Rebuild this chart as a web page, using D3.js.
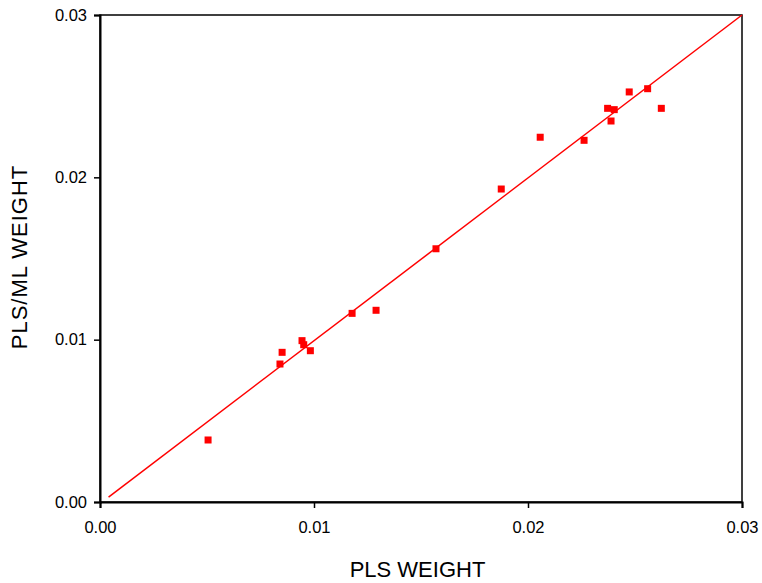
<!DOCTYPE html>
<html lang="en">
<head>
  <meta charset="utf-8">
  <title>PLS weight vs PLS/ML weight</title>
  <style>
    body { margin: 0; background: #fff; }
    svg text { font-family: "Liberation Sans", Arial, sans-serif; fill: #000; }
  </style>
</head>
<body>
<svg id="chart" width="762" height="583"></svg>
<script src="https://cdn.jsdelivr.net/npm/d3@7"></script>
<script>

// data
let plsWeight = [0.00505, 0.00841, 0.00851, 0.00944, 0.00952, 0.00983, 0.01178, 0.01290,
                 0.01570, 0.01875, 0.02057, 0.02262, 0.02372, 0.02403, 0.02388, 0.02473,
                 0.02559, 0.02623]
let plsMlWeight = [0.00382, 0.00850, 0.00922, 0.00994, 0.00969, 0.00932, 0.01162, 0.01181,
                   0.01560, 0.01928, 0.02247, 0.02228, 0.02425, 0.02417, 0.02347, 0.02526,
                   0.02546, 0.02425]
let fitLine = [[0.0004, 0.0003], [0.03, 0.03]]
let ticks = [0, 0.01, 0.02, 0.03]

let svg = d3.select("#chart")
let m = {left: 100, right: 742, top: 15, bottom: 502}

let x = d3.scaleLinear().domain([0, 0.03]).range([m.left, m.right])
let y = d3.scaleLinear().domain([0, 0.03]).range([m.bottom, m.top])

// frame
svg.append("rect")
  .attr("x", m.left).attr("y", m.top)
  .attr("width", m.right - m.left).attr("height", m.bottom - m.top)
  .attr("fill", "none").attr("stroke", "#000").attr("stroke-width", 1.5)

svg.append("g")
  .attr("transform", "translate(0," + m.bottom + ")")
  .call(d3.axisBottom(x).tickValues(ticks).tickFormat(d3.format(".2f")).tickSize(6).tickPadding(13))
svg.append("g")
  .attr("transform", "translate(" + m.left + ",0)")
  .call(d3.axisLeft(y).tickValues(ticks).tickFormat(d3.format(".2f")).tickSize(6).tickPadding(7))

svg.selectAll(".domain").attr("stroke-width", 2)
svg.selectAll(".tick line").attr("stroke-width", 1.5)
svg.selectAll(".tick text").style("font-size", "16.5px").attr("fill", "#000")

// fitted line
let line = d3.line().x(d => x(d[0])).y(d => y(d[1]))
svg.append("path")
  .datum(fitLine)
  .attr("d", line)
  .attr("fill", "none")
  .attr("stroke", "#ff0000")
  .attr("stroke-width", 1.5)

// points
let sz = 7
svg.append("g")
  .selectAll("rect").data(d3.range(plsWeight.length))
  .enter().append("rect")
    .attr("x", i => x(plsWeight[i]) - sz / 2)
    .attr("y", i => y(plsMlWeight[i]) - sz / 2)
    .attr("width", sz).attr("height", sz)
    .attr("fill", "#ff0000")

// axis titles
svg.append("text")
  .attr("x", 417.5).attr("y", 577)
  .attr("text-anchor", "middle")
  .style("font-size", "22px")
  .text("PLS WEIGHT")

svg.append("text")
  .attr("transform", "translate(27,257) rotate(-90)")
  .attr("text-anchor", "middle")
  .style("font-size", "22px")
  .style("letter-spacing", "1px")
  .text("PLS/ML WEIGHT")

</script>
</body>
</html>
